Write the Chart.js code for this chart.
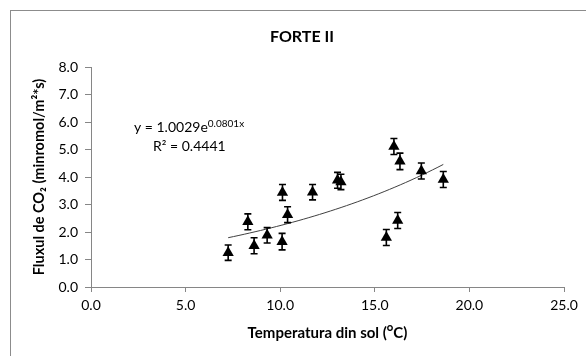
<!DOCTYPE html>
<html>
<head>
    <meta charset="utf-8">
    <title>FORTE II</title>
    <script src="https://cdn.jsdelivr.net/npm/chart.js"></script>
    <style>
        body { margin: 0; background: #fff; }
    </style>
</head>
<body>
    <canvas id="myChart" width="586" height="356"></canvas>

    <script>
        // Soil temperature (°C) vs CO2 flux, with standard error per point
        const temperature = [7.25, 8.29, 8.62, 9.31, 10.12, 10.10, 10.39, 11.71, 13.03, 13.21, 15.61, 16.01, 16.21, 16.33, 17.46, 18.62];
        const flux = [1.25, 2.37, 1.50, 1.88, 3.44, 1.65, 2.63, 3.45, 3.88, 3.82, 1.80, 5.11, 2.42, 4.57, 4.22, 3.91];
        const fluxErr = [0.28, 0.29, 0.29, 0.28, 0.29, 0.30, 0.29, 0.28, 0.29, 0.28, 0.29, 0.29, 0.29, 0.30, 0.29, 0.29];

        // exponential trendline y = a * e^(b*x)
        const fitA = 1.0029;
        const fitB = 0.0801;
        const fitR2 = '0.4441';

        const chartTitle = 'FORTE II';
        const xTitle = 'Temperatura din sol (\u1D3CC)';
        const yTitle = 'Fluxul de CO\u2082 (minromol/m\u00B2*s)';

        const FONT = 'Lato, "Liberation Sans", sans-serif';
        const AXIS_GREY = '#868686';

        let points = temperature.map((t, i) => ({ x: t, y: flux[i] }));

        // trendline sampled over the measured temperature range
        let tMin = Math.min(...temperature);
        let tMax = Math.max(...temperature);
        let trend = [];
        for (let k = 0; k <= 40; k++) {
            let t = tMin + (tMax - tMin) * k / 40;
            trend.push({ x: t, y: fitA * Math.exp(fitB * t) });
        }

        // white background plus the thin grey frame round the chart
        const frame = {
            id: 'frame',
            beforeDraw(chart) {
                let ctx = chart.ctx;
                ctx.save();
                ctx.fillStyle = '#fff';
                ctx.fillRect(0, 0, chart.width, chart.height);
                ctx.strokeStyle = '#8c8c8c';
                ctx.lineWidth = 1;
                ctx.strokeRect(10.5, 10.5, 700, 500);
                ctx.restore();
            }
        };

        const errorBars = {
            id: 'errorBars',
            afterDatasetsDraw(chart) {
                let ctx = chart.ctx;
                let yScale = chart.scales.y;
                let meta = chart.getDatasetMeta(0);
                ctx.save();
                ctx.strokeStyle = '#000';
                ctx.lineWidth = 1.6;
                meta.data.forEach((pt, i) => {
                    let top = yScale.getPixelForValue(flux[i] + fluxErr[i]);
                    let bot = yScale.getPixelForValue(flux[i] - fluxErr[i]);
                    ctx.beginPath();
                    ctx.moveTo(pt.x, top); ctx.lineTo(pt.x, bot);
                    ctx.moveTo(pt.x - 3.5, top); ctx.lineTo(pt.x + 3.5, top);
                    ctx.moveTo(pt.x - 3.5, bot); ctx.lineTo(pt.x + 3.5, bot);
                    ctx.stroke();
                });
                ctx.restore();
            }
        };

        // title and trendline equation text
        const labels = {
            id: 'labels',
            afterDraw(chart) {
                let ctx = chart.ctx;
                ctx.save();
                ctx.fillStyle = '#000';
                ctx.textBaseline = 'alphabetic';
                ctx.textAlign = 'center';
                ctx.font = 'bold 16px ' + FONT;
                ctx.fillText(chartTitle, 302, 42);

                ctx.textAlign = 'left';
                ctx.font = '14px ' + FONT;
                let eq = 'y = ' + fitA.toFixed(4) + 'e';
                ctx.fillText(eq, 134, 132);
                let w = ctx.measureText(eq).width;
                ctx.font = '10px ' + FONT;
                ctx.fillText(fitB.toFixed(4) + 'x', 134 + w, 127);

                ctx.font = '14px ' + FONT;
                ctx.fillText('R\u00B2 = ' + fitR2, 153, 151);
                ctx.restore();
            }
        };

        let ctx = document.getElementById('myChart').getContext('2d');
        window.myChart = new Chart(ctx, {
            type: 'scatter',
            data: {
                datasets: [{
                    label: 'Flux CO2',
                    data: points,
                    pointStyle: 'triangle',
                    pointRadius: 6.5,
                    pointHoverRadius: 6.5,
                    backgroundColor: '#000',
                    borderColor: '#000',
                    borderWidth: 0
                }, {
                    type: 'line',
                    label: 'Expon.',
                    data: trend,
                    borderColor: '#404040',
                    borderWidth: 1,
                    pointRadius: 0,
                    fill: false,
                    tension: 0
                }]
            },
            options: {
                responsive: false,
                animation: false,
                layout: {
                    padding: { top: 67, left: 0, right: 22, bottom: 0 }
                },
                plugins: {
                    legend: { display: false },
                    tooltip: { enabled: false },
                    title: { display: false }
                },
                scales: {
                    x: {
                        type: 'linear',
                        min: 0,
                        max: 25,
                        afterFit: scale => { scale.height = 69; },
                        ticks: {
                            stepSize: 5,
                            padding: 5,
                            color: '#000',
                            font: { family: FONT, size: 14 },
                            callback: v => v.toFixed(1)
                        },
                        grid: {
                            drawOnChartArea: false,
                            tickLength: 5,
                            color: AXIS_GREY
                        },
                        border: { color: AXIS_GREY },
                        title: {
                            display: true,
                            text: xTitle,
                            color: '#000',
                            font: { family: FONT, size: 15, weight: 'bold' },
                            padding: { top: 0, bottom: 14 }
                        }
                    },
                    y: {
                        min: 0,
                        max: 8,
                        afterFit: scale => { scale.width = 91; },
                        ticks: {
                            stepSize: 1,
                            padding: 7,
                            color: '#000',
                            font: { family: FONT, size: 14 },
                            callback: v => v.toFixed(1)
                        },
                        grid: {
                            drawOnChartArea: false,
                            tickLength: 6,
                            color: AXIS_GREY
                        },
                        border: { color: AXIS_GREY },
                        title: {
                            display: true,
                            text: yTitle,
                            color: '#000',
                            font: { family: FONT, size: 14.5, weight: 'bold' },
                            padding: { top: 31, bottom: 0 }
                        }
                    }
                }
            },
            plugins: [frame, errorBars, labels]
        });
    </script>
</body>
</html>
